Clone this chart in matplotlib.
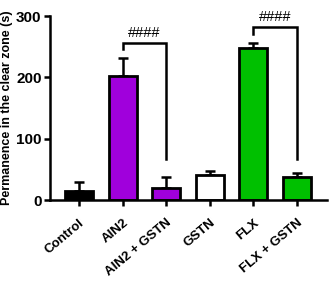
import matplotlib.pyplot as plt
import numpy as np

plt.rcParams['font.family'] = ['Liberation Sans', 'DejaVu Sans']
plt.rcParams['font.weight'] = 'bold'

groups = ['Control', 'AIN2', 'AIN2 + GSTN', 'GSTN', 'FLX', 'FLX + GSTN']
means = [15, 202, 20, 41, 248, 37]
sems = [14, 29, 17, 6, 8, 7]
colors = ['#000000', '#A000DC', '#A000DC', '#FFFFFF', '#00C000', '#00C000']

# significance brackets: (left bar, right bar, top, left drop, right drop, label)
brackets = [(1, 2, 256, 246, 67, '####'),
            (4, 5, 282, 271, 67, '####')]

fig = plt.figure(figsize=(3.3, 2.82), dpi=100)
ax = fig.add_axes([50/330, 82/282, 277/330, 184/282])

x = np.arange(len(groups))
ax.errorbar(x, means, yerr=[np.zeros(len(sems)), sems], fmt='none',
            ecolor='black', elinewidth=1.8, capsize=3.6, capthick=1.8, zorder=1)
ax.bar(x, means, width=0.64, color=colors, edgecolor='black', linewidth=2, zorder=2)

for l, r, top, ld, rd, lab in brackets:
    ax.plot([l, l, r, r], [ld, top, top, rd], color='black', lw=1.8,
            clip_on=False, solid_joinstyle='miter')
    ax.text((l + r) / 2, top + 5, lab, ha='center', va='bottom',
            fontsize=10.5, fontweight='normal', clip_on=False)

ax.set_xlim(-0.665, 5.69)
ax.set_ylim(0, 300)
ax.set_yticks([0, 100, 200, 300])
ax.set_xticks(x)
ax.set_xticklabels(groups, rotation=40, ha='right', rotation_mode='anchor',
                   fontsize=9.5, fontweight='bold')
ax.tick_params(axis='y', labelsize=11, width=1.8, length=4, pad=2)
ax.tick_params(axis='x', width=1.8, length=4, pad=8)
ax.set_ylabel('Permanence in the clear zone (s)', fontsize=9, fontweight='bold',
              labelpad=2)
for s in ['top', 'right']:
    ax.spines[s].set_visible(False)
for s in ['left', 'bottom']:
    ax.spines[s].set_linewidth(1.8)

fig.savefig('out.png', dpi=100)
